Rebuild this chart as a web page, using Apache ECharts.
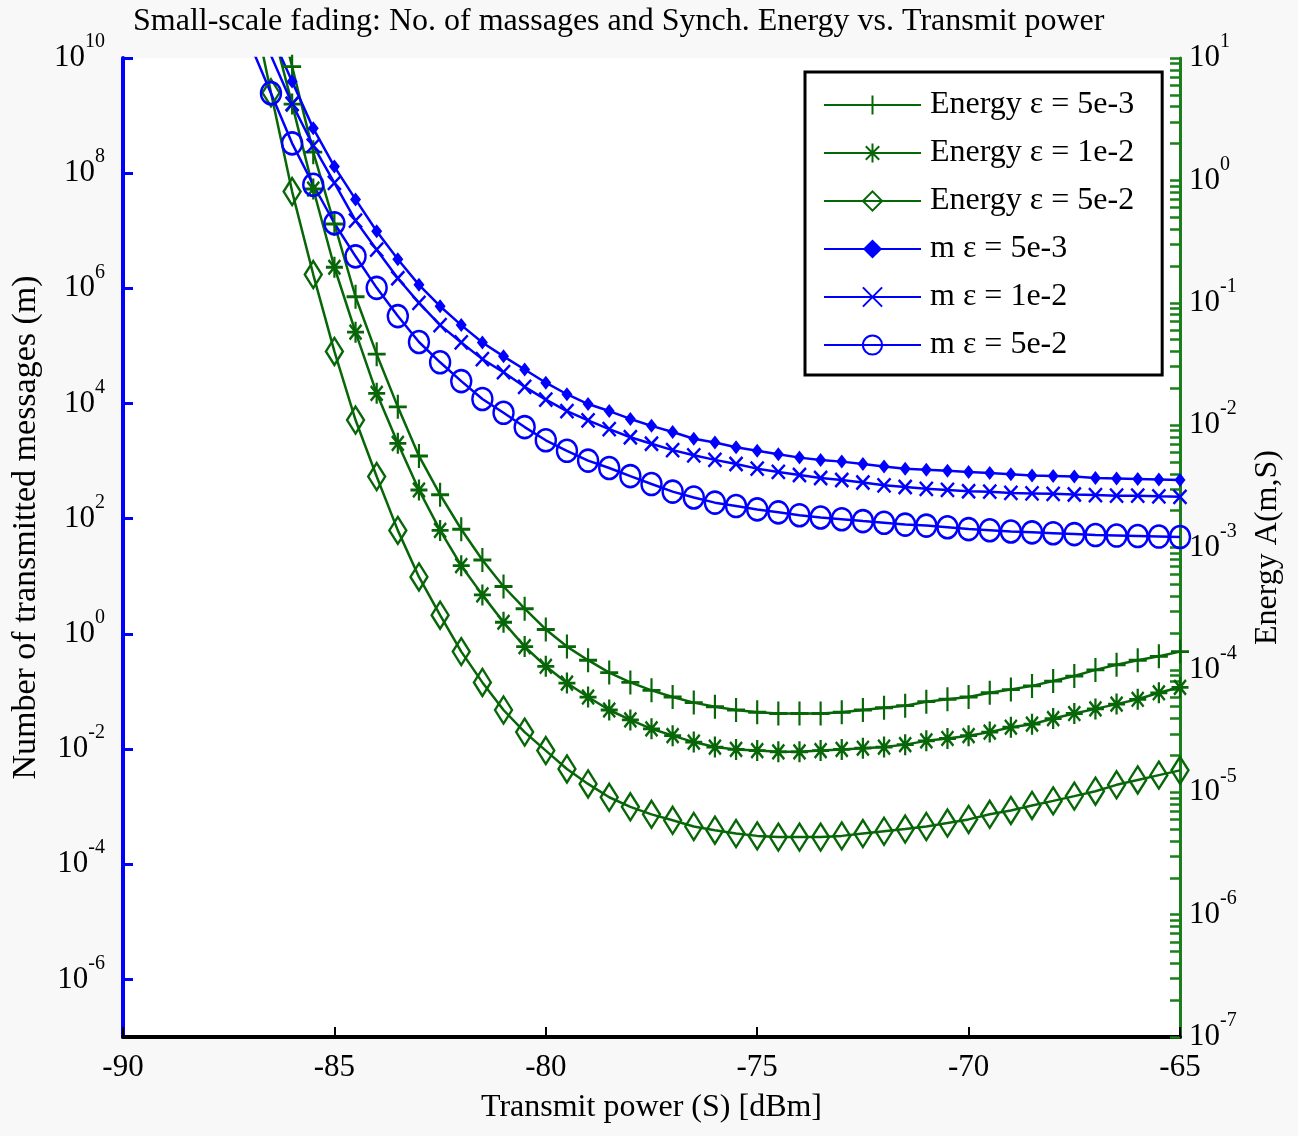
<!DOCTYPE html>
<html>
<head>
<meta charset="utf-8">
<title>Small-scale fading</title>
<script src="https://cdn.jsdelivr.net/npm/echarts@6.0.0/dist/echarts.min.js"></script>
<style>
  html, body { margin: 0; padding: 0; background: #f8f8f8; }
  #chart { width: 1298px; height: 1136px; }
</style>
</head>
<body>
<div id="chart"></div>
<script>
// transmit power (dBm), one point every 0.5 dB
var xs = [-87, -86.5, -86, -85.5, -85, -84.5, -84, -83.5, -83, -82.5, -82, -81.5, -81, -80.5, -80,
  -79.5, -79, -78.5, -78, -77.5, -77, -76.5, -76, -75.5, -75, -74.5, -74, -73.5, -73, -72.5, -72,
  -71.5, -71, -70.5, -70, -69.5, -69, -68.5, -68, -67.5, -67, -66.5, -66, -65.5, -65];

// number of transmitted messages m (left axis)
var mEps5e3 = [null, 2.6e10, 3.9e9, 6.0e8, 1.3e8, 3.5e7, 9.8e6, 3.2e6, 1.15e6, 4.9e5, 2.3e5, 1.15e5,
  6.6e4, 3.9e4, 2.3e4, 1.45e4, 9.8e3, 7.4e3, 5.4e3, 4.1e3, 3.2e3, 2.45e3, 2.1e3, 1.74e3, 1.51e3,
  1.32e3, 1.15e3, 1.05e3, 980, 890, 810, 740, 710, 680, 650, 620, 590, 560, 550, 540, 510, 500, 490, 480, 470];
var mEps1e2 = [null, 1.1e10, 1.6e9, 3.0e8, 6.8e7, 1.5e7, 4.7e6, 1.5e6, 5.6e5, 2.3e5, 1.15e5, 5.9e4,
  3.5e4, 1.95e4, 1.17e4, 7.4e3, 5.1e3, 3.6e3, 2.6e3, 2.0e3, 1.55e3, 1.26e3, 1.05e3, 890, 740, 650,
  575, 510, 470, 425, 380, 355, 330, 316, 300, 295, 280, 275, 270, 263, 257, 251, 251, 245, 240];
var mEps5e2 = [1.8e10, 2.45e9, 3.3e8, 6.3e7, 1.35e7, 3.6e6, 1.02e6, 3.3e5, 1.17e5, 5.2e4, 2.45e4, 1.2e4,
  6.9e3, 3.9e3, 2.3e3, 1.51e3, 1.02e3, 760, 550, 400, 295, 234, 190, 166, 145, 129, 115, 105, 98, 91,
  85, 79, 76, 71, 66, 63, 60, 58, 56, 54, 52, 51, 50, 49, 48];

// synchronisation energy A(m,S) (right axis)
var eEps5e3 = [null, 44, 8.5, 1.7, 0.44, 0.112, 0.038, 0.0141, 5.6e-3, 2.7e-3, 1.41e-3, 7.9e-4, 4.8e-4,
  3.16e-4, 2.14e-4, 1.55e-4, 1.2e-4, 9.5e-5, 7.9e-5, 6.8e-5, 6.0e-5, 5.4e-5, 5.0e-5, 4.7e-5, 4.5e-5,
  4.4e-5, 4.4e-5, 4.4e-5, 4.5e-5, 4.7e-5, 4.9e-5, 5.1e-5, 5.5e-5, 5.75e-5, 6.0e-5, 6.5e-5, 6.9e-5,
  7.4e-5, 8.1e-5, 8.9e-5, 1.0e-4, 1.1e-4, 1.2e-4, 1.29e-4, 1.41e-4];
var eEps1e2 = [null, 19.5, 4.2, 0.85, 0.195, 0.0575, 0.0182, 7.1e-3, 2.95e-3, 1.38e-3, 7.1e-4, 4.1e-4,
  2.45e-4, 1.55e-4, 1.07e-4, 7.8e-5, 6.0e-5, 4.7e-5, 3.9e-5, 3.3e-5, 2.9e-5, 2.57e-5, 2.34e-5, 2.24e-5,
  2.19e-5, 2.14e-5, 2.14e-5, 2.19e-5, 2.24e-5, 2.29e-5, 2.34e-5, 2.45e-5, 2.63e-5, 2.75e-5, 2.9e-5,
  3.1e-5, 3.4e-5, 3.6e-5, 4.0e-5, 4.4e-5, 4.8e-5, 5.25e-5, 5.75e-5, 6.5e-5, 7.2e-5];
var eEps5e2 = [35, 5.2, 0.81, 0.17, 0.04, 0.011, 3.8e-3, 1.38e-3, 5.75e-4, 2.8e-4, 1.41e-4, 7.9e-5,
  4.7e-5, 3.1e-5, 2.19e-5, 1.55e-5, 1.17e-5, 9.1e-6, 7.6e-6, 6.6e-6, 5.9e-6, 5.25e-6, 4.9e-6, 4.6e-6,
  4.4e-6, 4.3e-6, 4.3e-6, 4.3e-6, 4.4e-6, 4.6e-6, 4.8e-6, 5.0e-6, 5.25e-6, 5.6e-6, 6.0e-6, 6.6e-6,
  7.1e-6, 7.8e-6, 8.5e-6, 9.3e-6, 1.02e-5, 1.15e-5, 1.26e-5, 1.38e-5, 1.51e-5];

// axis ticks
var leftTicks = [1e-6, 1e-4, 1e-2, 1, 1e2, 1e4, 1e6, 1e8, 1e10];
var rightTicks = [1e-7, 1e-6, 1e-5, 1e-4, 1e-3, 1e-2, 1e-1, 1, 10];
var minorSteps = [2, 3, 4, 5, 6, 7, 8, 9];

var GREEN = '#076607';
var BLUE = '#0000ff';
var FONT = 'Liberation Serif';

var rightAllTicks = rightTicks.slice();
rightTicks.slice(0, -1).forEach(function (d) {
  minorSteps.forEach(function (k) { rightAllTicks.push(d * k); });
});

function pairs(ys) {
  return xs.map(function (x, i) { return [x, ys[i]]; });
}

function powLabel(v) {
  return '{b|10}{s|' + Math.round(Math.log10(v)) + '}';
}

var labelRich = {
  b: { fontFamily: FONT, fontSize: 31, color: '#000', lineHeight: 52 },
  s: { fontFamily: FONT, fontSize: 20, color: '#000', lineHeight: 20, verticalAlign: 'top' }
};

var PLUS = 'path://M0,-10L0,10M-10,0L10,0';
var STAR = 'path://M0,-10L0,10M-10,0L10,0M-7,-7L7,7M-7,7L7,-7';
var CROSS = 'path://M-10,-10L10,10M-10,10L10,-10';

function line(name, ys, axis, color, symbol, size, filled) {
  return {
    name: name,
    type: 'line',
    yAxisIndex: axis,
    data: pairs(ys),
    symbol: symbol,
    symbolSize: size,
    showSymbol: true,
    showAllSymbol: true,
    clip: true,
    lineStyle: { color: color, width: 2.5 },
    itemStyle: {
      color: filled ? color : 'rgba(0,0,0,0)',
      borderColor: color,
      borderWidth: filled ? 0 : 2.5
    },
    emphasis: { disabled: true }
  };
}

var chart = echarts.init(document.getElementById('chart'));

chart.setOption({
  backgroundColor: '#f8f8f8',
  animation: false,
  title: {
    text: 'Small-scale fading: No. of massages and Synch. Energy vs. Transmit power',
    left: 128,
    top: 1,
    textStyle: { fontFamily: FONT, fontSize: 32, fontWeight: 'normal', color: '#000' }
  },
  grid: {
    left: 123, right: 118, top: 58, bottom: 99,
    show: true, backgroundColor: '#ffffff', borderWidth: 0,
    outerBoundsMode: 'none'
  },
  legend: {
    orient: 'vertical',
    left: 805,
    top: 72,
    padding: [17, 28, 14, 18],
    itemGap: 16,
    itemWidth: 97,
    itemHeight: 24,
    backgroundColor: '#ffffff',
    borderColor: '#000',
    borderWidth: 3,
    borderRadius: 0,
    textStyle: { fontFamily: FONT, fontSize: 32, color: '#000', padding: [0, 0, 0, 4] },
    data: ['Energy ε = 5e-3', 'Energy ε = 1e-2', 'Energy ε = 5e-2', 'm ε = 5e-3', 'm ε = 1e-2', 'm ε = 5e-2']
  },
  xAxis: {
    type: 'value',
    min: -90,
    max: -65,
    interval: 5,
    name: 'Transmit power (S) [dBm]',
    nameLocation: 'middle',
    nameGap: 55,
    nameTextStyle: { fontFamily: FONT, fontSize: 32, color: '#000' },
    axisLine: { lineStyle: { color: '#000', width: 4 } },
    axisTick: { inside: true, length: 10, lineStyle: { color: '#000', width: 2 } },
    axisLabel: { fontFamily: FONT, fontSize: 31, color: '#000', margin: 15 },
    splitLine: { show: false }
  },
  yAxis: [{
    type: 'log',
    logBase: 10,
    min: 1e-7,
    max: 1e10,
    position: 'left',
    name: 'Number of transmitted messages (m)',
    nameLocation: 'middle',
    nameGap: 74,
    nameTextStyle: { fontFamily: FONT, fontSize: 34, color: '#000', padding: [0, 0, 0, 40] },
    axisLine: { show: true, lineStyle: { color: BLUE, width: 4 } },
    axisTick: { show: true, inside: true, length: 10, customValues: leftTicks, lineStyle: { color: BLUE, width: 3 } },
    axisLabel: { customValues: leftTicks, formatter: powLabel, rich: labelRich, margin: 18 },
    splitLine: { show: false },
    minorTick: { show: false }
  }, {
    type: 'log',
    logBase: 10,
    min: 1e-7,
    max: 10,
    position: 'right',
    name: 'Energy A(m,S)',
    nameLocation: 'middle',
    nameGap: 72,
    nameTextStyle: { fontFamily: FONT, fontSize: 32, color: '#000' },
    axisLine: { show: true, lineStyle: { color: '#1a7f1a', width: 3 } },
    axisTick: { show: true, inside: true, length: 10, customValues: rightAllTicks, lineStyle: { color: '#1a7f1a', width: 2.5 } },
    axisLabel: { customValues: rightTicks, formatter: powLabel, rich: labelRich, margin: 9 },
    splitLine: { show: false },
    minorTick: { show: false }
  }],
  series: [
    line('Energy ε = 5e-3', eEps5e3, 1, GREEN, PLUS, [18, 24], false),
    line('Energy ε = 1e-2', eEps1e2, 1, GREEN, STAR, [17, 21], false),
    line('Energy ε = 5e-2', eEps5e2, 1, GREEN, 'diamond', [17, 27], false),
    line('m ε = 5e-3', mEps5e3, 0, BLUE, 'diamond', [11, 14], true),
    line('m ε = 1e-2', mEps1e2, 0, BLUE, CROSS, [13, 14], false),
    line('m ε = 5e-2', mEps5e2, 0, BLUE, 'circle', [20, 22], false)
  ]
});
</script>
</body>
</html>
